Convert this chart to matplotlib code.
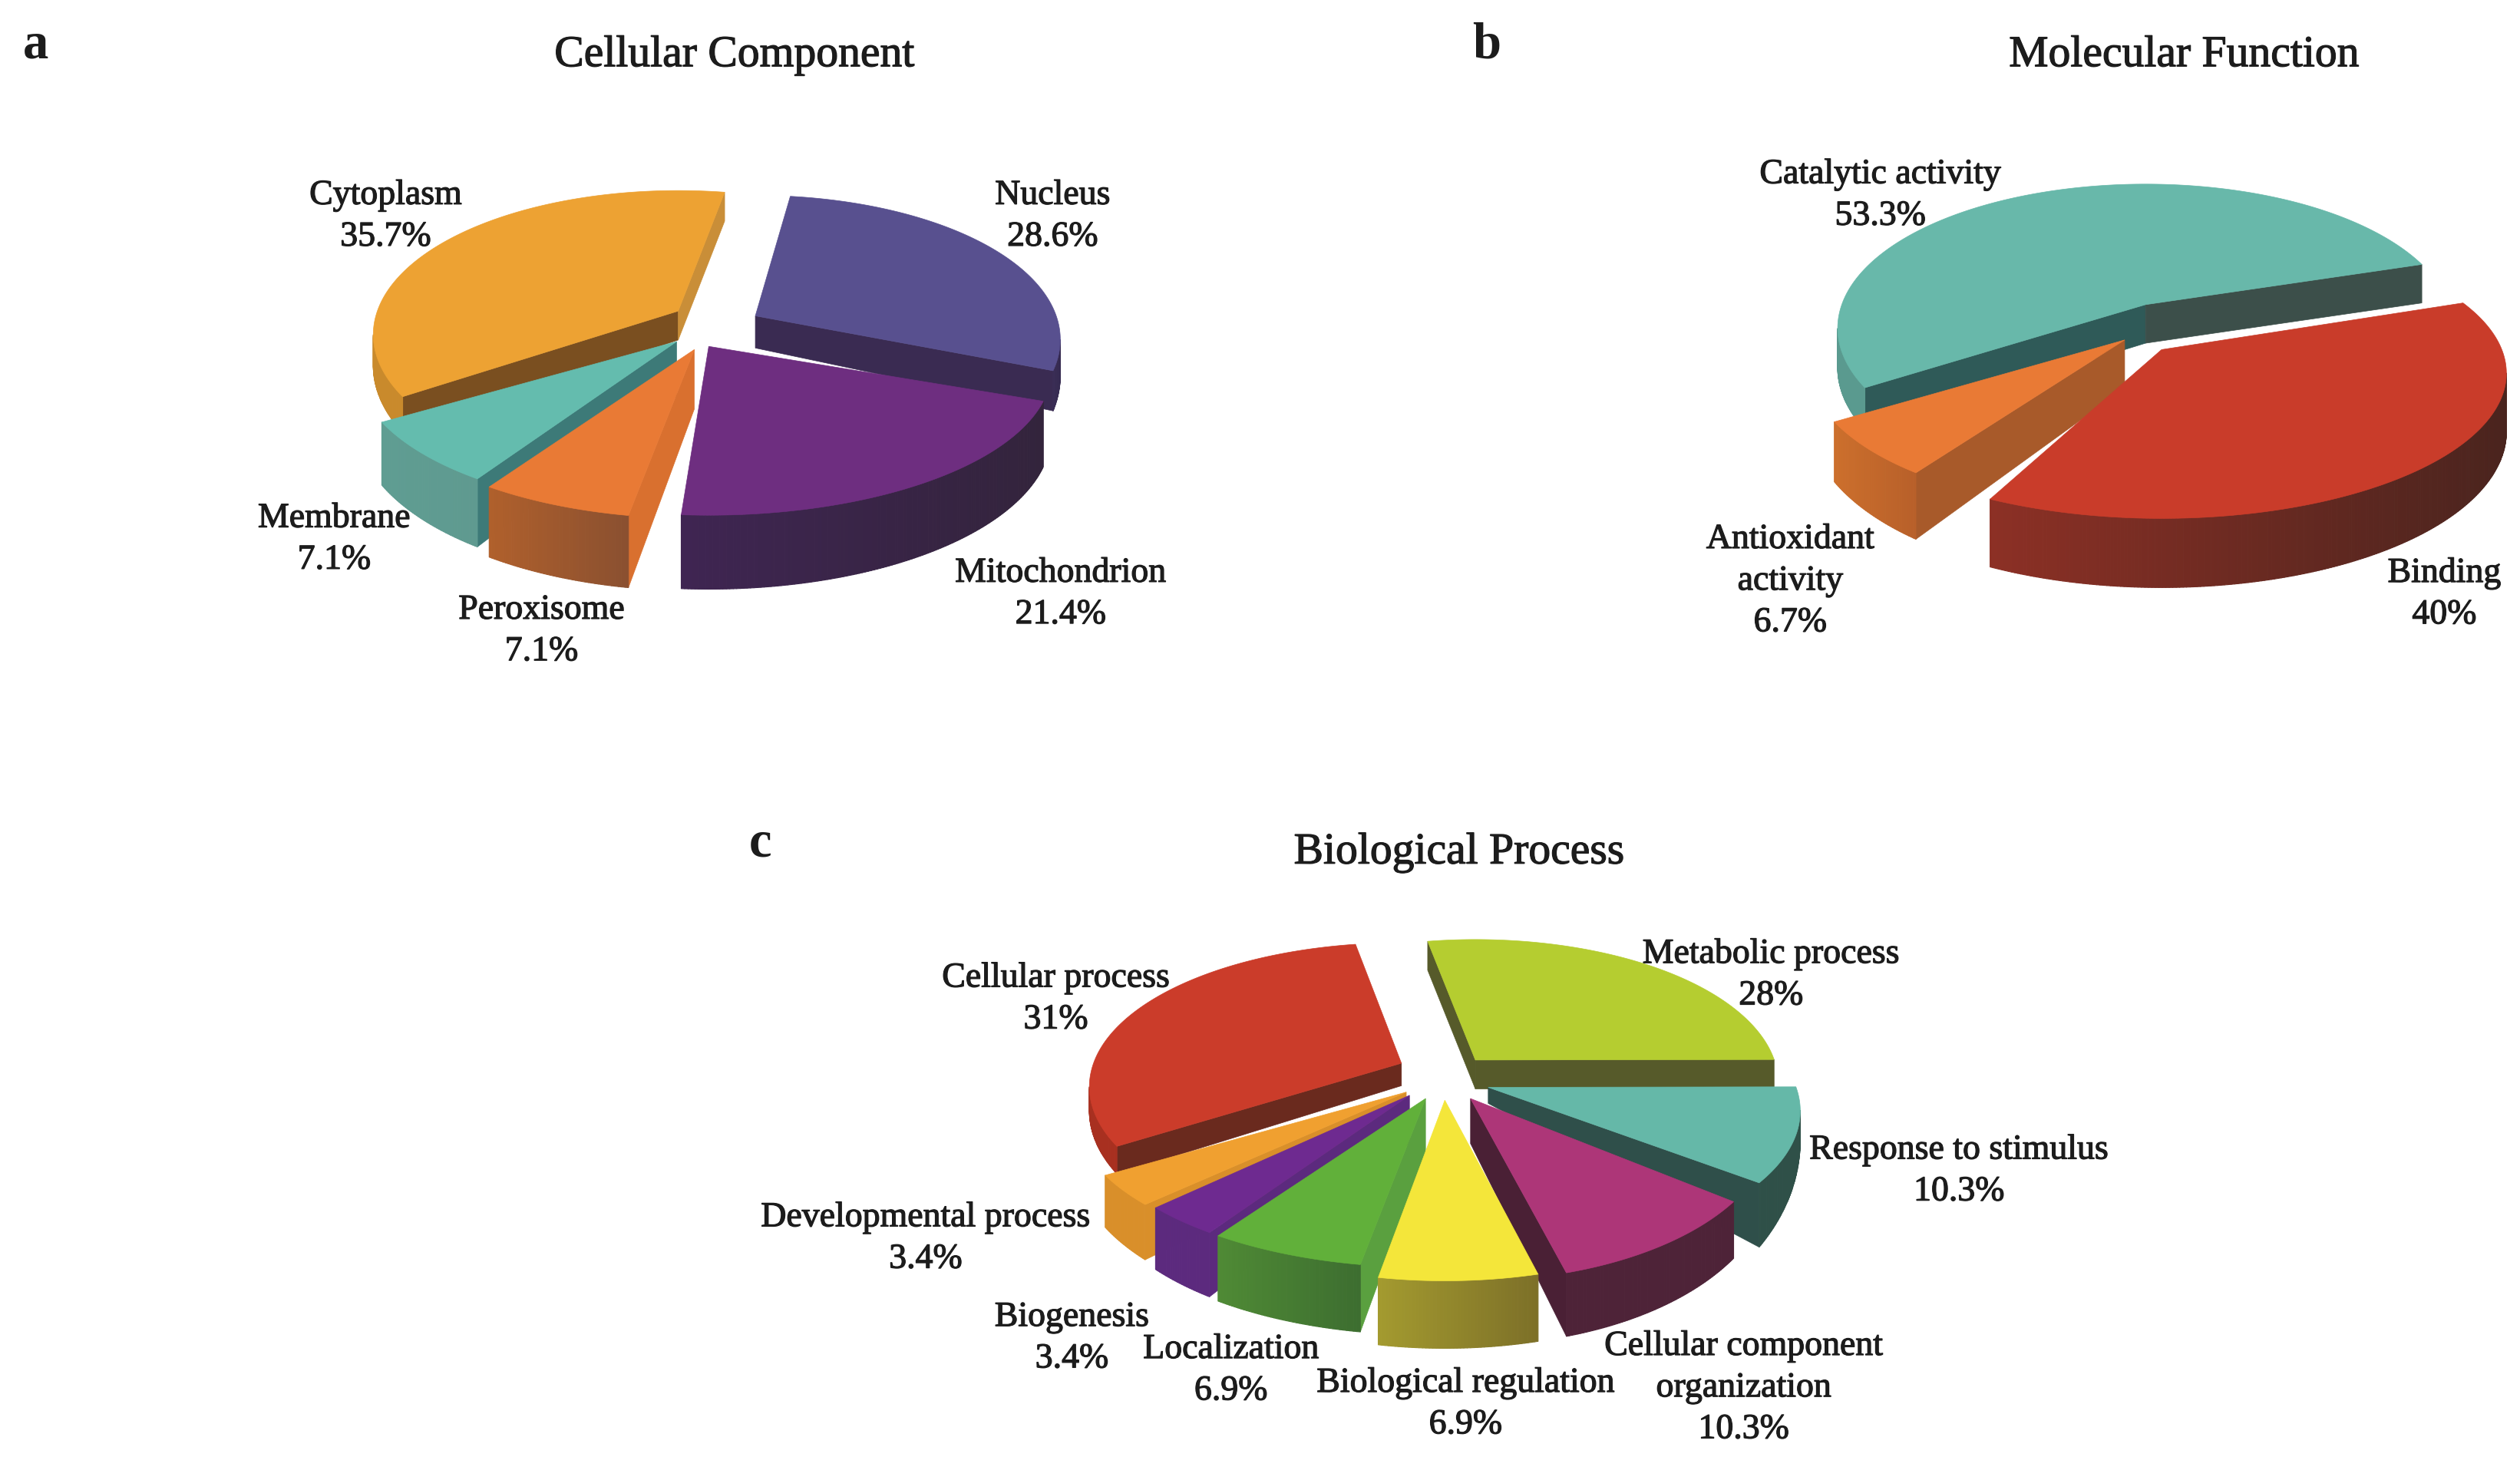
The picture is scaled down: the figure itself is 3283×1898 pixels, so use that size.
"""Three exploded pseudo-3D pies: cellular component, molecular function, biological process."""
import numpy as np
import matplotlib
matplotlib.use("Agg")
import matplotlib.pyplot as plt
import matplotlib.patheffects as pe
from matplotlib.collections import PolyCollection
from matplotlib.colors import to_rgb
from matplotlib.patches import Polygon

# data
cc_names = ["Nucleus", "Mitochondrion", "Peroxisome", "Membrane", "Cytoplasm"]
cc_values = [28.6, 21.4, 7.1, 7.1, 35.7]
mf_names = ["Binding", "Antioxidant\nactivity", "Catalytic activity"]
mf_values = [40, 6.7, 53.3]
bp_names = ["Metabolic process", "Response to stimulus", "Cellular component\norganization",
            "Biological regulation", "Localization", "Biogenesis",
            "Developmental process", "Cellular process"]
bp_values = [28, 10.3, 10.3, 6.9, 6.9, 3.4, 3.4, 31]

# styles: apex offset of each exploded slice, side depth, x/y stretch, small angle nudges
# colours are top, start cut, end cut, wall left, wall right
PANELS = [
    dict(title="Cellular Component", title_xy=(457, 35), letter="a", letter_xy=(22, 28),
         names=cc_names, values=cc_values, start=8, rx=193, ry=90,
         apex=[(470, 197), (441, 216), (432, 218), (421, 213), (422, 194)],
         depth=[20, 38, 37, 34, 18], grow=[14, 8, 8, 10, 8],
         scale=[(0.97, 1), (1.09, 1), (1.05, 1), (1.02, 1), (0.97, 1)],
         nudge=[(0, 0), (0, -4), (2, 0), (0, 0), (-2, 3)],
         order=[0, 4, 1, 3, 2],
         label_xy=[(655, 135), (660, 370), (337, 393), (208, 336), (240, 135)],
         colors=[("#58508f", "#352a50", "#3a2b52", "#3a2d55", "#352a50"),
                 ("#6e2e80", "#3a2548", "#3a2548", "#3f2552", "#33243c"),
                 ("#e97a35", "#d9702f", "#d9702f", "#b0602c", "#8a5030"),
                 ("#64bcae", "#3d7a78", "#3d7a78", "#5f9d92", "#5f9a90"),
                 ("#eda233", "#7a4f20", "#c98e38", "#c98a2c", "#c98a2c")]),
    dict(title="Molecular Function", title_xy=(1359, 35), letter="b", letter_xy=(925, 28),
         names=mf_names, values=mf_values, start=70, rx=189, ry=90,
         apex=[(1345, 218), (1322, 212), (1335, 190)],
         depth=[35, 30, 24], grow=[8, 14, 4],
         scale=[(1.12, 1), (1.03, 1), (1, 1)],
         nudge=[(0, -8), (2, 0.5), (0, 3)],
         order=[2, 1, 0],
         label_xy=[(1521, 370), (1114, 362), (1170, 122)],
         colors=[("#c93c2a", "#7c2a20", "#8c3025", "#8c3025", "#4a241e"),
                 ("#e97a35", "#a85a2a", "#a85a2a", "#cc6f2c", "#b8602a"),
                 ("#68b8aa", "#2f5a58", "#3c4f4a", "#5a9a8f", "#5a9a8f")]),
    dict(title="Biological Process", title_xy=(908, 531), letter="c", letter_xy=(473, 525),
         names=bp_names, values=bp_values, start=-11, rx=186, ry=90,
         apex=[(918, 660), (926, 677), (915, 684), (899, 685), (887, 684), (877, 682), (875, 680), (872, 662)],
         depth=[18, 10, 28, 34, 34, 30, 26, 14], grow=[4, 50, 12, 8, 8, 12, 12, 6],
         scale=[(1, 1), (1.03, 1), (1, 1.08), (1.07, 1.07), (1.1, 1), (1.06, 1), (1.09, 1), (1.03, 1)],
         nudge=[(0, 0), (0, 0), (0, 0), (1.5, 1.5), (1, 0), (0, 0), (0, 0), (0, 0)],
         order=[7, 0, 1, 6, 5, 4, 2, 3],
         label_xy=[(1102, 607), (1219, 729), (1085, 864), (912, 874), (766, 853), (667, 833), (576, 771), (657, 622)],
         colors=[("#b5cd30", "#565a2a", "#565a2a", "#565a2a", "#565a2a"),
                 ("#65b8a8", "#2f4f4a", "#2f4f4a", "#2f5048", "#2f5048"),
                 ("#ad3678", "#4a2035", "#4a2035", "#4e2338", "#4e2338"),
                 ("#f4e63a", "#a39a2f", "#a39a2f", "#a39a2f", "#7d7028"),
                 ("#61b03a", "#5aa03f", "#5aa03f", "#4f8a35", "#3d6e30"),
                 ("#6e2a90", "#5c2a7e", "#5c2a7e", "#5c2a7e", "#5c2a7e"),
                 ("#f0a030", "#d98f2a", "#d98f2a", "#d98f2a", "#d98f2a"),
                 ("#cb3c2a", "#6a2a1e", "#a83020", "#a83020", "#a83020")]),
]
PERSPECTIVE = 0.167
TEXT = "#1c1c1c"


def rim(theta, rx, ry):
    X, Y = np.sin(theta), -np.cos(theta)
    s = 1 + PERSPECTIVE * Y
    return X * s * rx, Y * s * ry, Y


def draw_slice(ax, apex, a0, a1, rx, ry, d0, grow, cols):
    top, cut0, cut1, wall_l, wall_r = cols
    th = np.radians(np.linspace(a0, a1, max(int(a1 - a0) * 2, 8)))
    x, y, Y = rim(th, rx, ry)
    x, y = x + apex[0], y + apex[1]
    d = d0 + grow * np.clip(Y, 0, None)

    # cuts are only visible when they face the viewer
    if x[0] < apex[0]:
        ax.add_patch(Polygon([apex, (x[0], y[0]), (x[0], y[0] + d[0]), (apex[0], apex[1] + d0)],
                             fc=cut0, ec=cut0, lw=0.5))
    if x[-1] > apex[0]:
        ax.add_patch(Polygon([apex, (x[-1], y[-1]), (x[-1], y[-1] + d[-1]), (apex[0], apex[1] + d0)],
                             fc=cut1, ec=cut1, lw=0.5))

    # outer wall split into strips to get the left to right shading
    front = np.where(np.diff(x) < 0)[0]
    if len(front):
        x0, x1 = x[front].min(), x[front].max()
        strips, shades = [], []
        cl, cr = np.array(to_rgb(wall_l)), np.array(to_rgb(wall_r))
        for i in front:
            strips.append([(x[i], y[i]), (x[i + 1], y[i + 1]), (x[i + 1], y[i + 1] + d[i + 1]), (x[i], y[i] + d[i])])
            t = (x[i] - x0) / max(x1 - x0, 1)
            shades.append(cl + (cr - cl) * t)
        ax.add_collection(PolyCollection(strips, facecolors=shades, edgecolors=shades, linewidths=0.8))

    ax.add_patch(Polygon(np.vstack([[apex], np.c_[x, y]]), fc=top, ec=top, lw=0.5))


def draw_panel(ax, p):
    stroke = [pe.withStroke(linewidth=0.9, foreground=TEXT)]
    bounds = p["start"] + np.r_[0, np.cumsum(p["values"])] * 3.6
    for i in p["order"]:
        sx, sy = p["scale"][i]
        n0, n1 = p["nudge"][i]
        draw_slice(ax, p["apex"][i], bounds[i] + n0, bounds[i + 1] + n1, p["rx"] * sx, p["ry"] * sy,
                   p["depth"][i], p["grow"][i], p["colors"][i])
    for name, v, xy in zip(p["names"], p["values"], p["label_xy"]):
        ax.text(xy[0], xy[1], f"{name}\n{v:g}%", ha="center", va="center", ma="center",
                fontsize=33, color=TEXT, linespacing=1.36, path_effects=stroke)
    ax.text(*p["title_xy"], p["title"], ha="center", va="center", fontsize=41.5, color=TEXT, path_effects=stroke)
    ax.text(*p["letter_xy"], p["letter"], ha="center", va="center", fontsize=48, weight="bold", color=TEXT)


plt.rcParams["font.family"] = ["Liberation Serif", "DejaVu Serif"]
fig = plt.figure(figsize=(32.83, 18.99), dpi=100)
ax = fig.add_axes([0, 0, 1, 1])
ax.set_xlim(0, 1568)
ax.set_ylim(907, 0)
ax.axis("off")
for panel in PANELS:
    draw_panel(ax, panel)
fig.savefig("out.png", dpi=100, facecolor="white")
